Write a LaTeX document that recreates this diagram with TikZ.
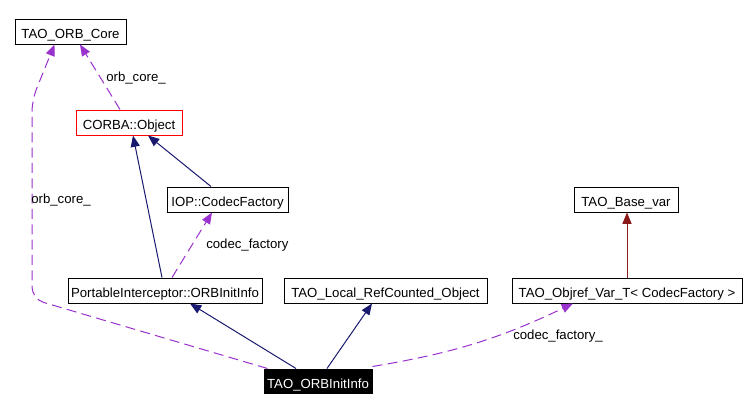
\documentclass[tikz,border=0pt]{standalone}
\usepackage{fontspec}
\setmainfont{Liberation Sans}
\usetikzlibrary{arrows.meta,calc}
\definecolor{edgeblue}{RGB}{25,25,112}
\definecolor{edgepurple}{RGB}{154,50,205}
\definecolor{edgered}{RGB}{139,26,26}
\begin{document}
\begin{tikzpicture}[x=0.75pt, y=-0.75pt, font=\fontsize{9.9}{12}\selectfont,
  cls/.style={draw=black, line width=0.75pt, inner sep=0pt, minimum height=18.75pt, minimum width=#1*0.75pt,
    text height=10.9pt, text depth=0pt},
  tip/.style={-{Triangle[length=8.5pt,width=6.8pt]}},
  inherit/.style={tip, edgeblue, line width=0.75pt},
  member/.style={tip, edgepurple, line width=0.75pt, dash pattern=on 7.5pt off 4pt},
  lbl/.style={anchor=west, inner sep=0pt, text=black}]
  \fill[white] (0,0) rectangle (747,411);
  \useasboundingbox (0,0) rectangle (747,411);
  \node[cls=111] (core) at (70.5,31.5) {TAO\_ORB\_Core};
  \node[cls=106, draw=red] (obj) at (129,122.5) {CORBA::Object};
  \node[cls=121] (codec) at (227.5,199.5) {IOP::CodecFactory};
  \node[cls=194] (pi) at (165,290.5) {PortableInterceptor::ORBInitInfo};
  \node[cls=203] (local) at (385.5,290.5) {TAO\_Local\_RefCounted\_Object};
  \node[cls=230] (objref) at (627,290.5) {TAO\_Objref\_Var\_T< CodecFactory >};
  \node[cls=104] (basevar) at (626,199.5) {TAO\_Base\_var};
  \node[cls=108, fill=black, text=white, minimum height=18pt] (main) at (318,381) {TAO\_ORBInitInfo};
  \draw[inherit] ($(pi.north)+(-3,0)$) -- ($(obj.south)+(4,0)$);
  \draw[inherit] ($(codec.north)+(-16.5,0)$) -- ($(obj.south)+(19,0)$);
  \draw[inherit] ($(main.north)+(-22,0)$) -- ($(pi.south)+(25,0)$);
  \draw[inherit] ($(main.north)+(9,0)$) -- ($(local.south)+(-13.5,0)$);
  \draw[tip, edgered, line width=0.75pt] ($(objref.north)+(0,0)$) -- ($(basevar.south)+(1,0)$);
  \draw[member] ($(pi.north)+(7,0)$) -- ($(codec.south)+(-15.5,0)$);
  \node[lbl] (l1) at (206,245) {codec\_factory};
  \draw[member] ($(obj.north)+(-9,0)$) -- ($(core.south)+(9.5,0)$);
  \node[lbl] (l2) at (106,78) {orb\_core\_};
  \draw[member, rounded corners=9pt] ($(main.north west)+(4,0)$) -- (32,299) -- (32,100) -- ($(core.south west)+(40,0)$);
  \node[lbl] (l3) at (31,200) {orb\_core\_};
  \draw[member] ($(main.north east)+(0,-2)$) to[bend right=8] ($(objref.south)+(-54,0)$);
  \node[lbl] (l4) at (513,336) {codec\_factory\_};
\end{tikzpicture}
\end{document}
